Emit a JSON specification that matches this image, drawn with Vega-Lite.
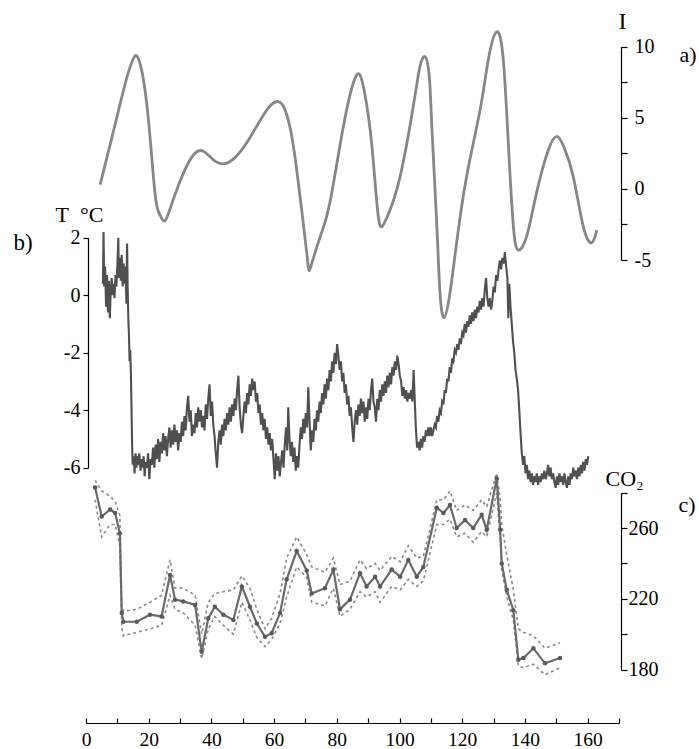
{
  "$schema": "https://vega.github.io/schema/vega-lite/v6.json",
  "width": 621,
  "height": 723,
  "autosize": "none",
  "padding": {"left": 0, "top": 0, "right": 78, "bottom": 26},
  "background": "white",
  "config": {
    "font": "Liberation Serif",
    "view": {"stroke": null},
    "axis": {"labelFont": "Liberation Serif", "titleFont": "Liberation Serif", "labelFontSize": 20, "titleFontSize": 22, "titleFontWeight": "normal", "domainColor": "black", "tickColor": "black", "labelColor": "black", "titleColor": "black", "grid": false, "labelFlush": false, "labelOverlap": false, "domainWidth": 1.2, "tickWidth": 1.2},
    "text": {"font": "Liberation Serif", "fontSize": 22, "color": "black"}
  },
  "datasets": {
    "ins": [
      {"t": 4.5, "I": 0.3}, {"t": 7, "I": 2.5}, {"t": 9.8, "I": 5.0}, {"t": 13, "I": 7.8}, {"t": 15, "I": 9.1}, {"t": 16.2, "I": 9.35}, {"t": 17.8, "I": 8.3}, {"t": 19.9, "I": 4.9}, {"t": 22, "I": -0.3}, {"t": 23.5, "I": -1.8}, {"t": 24.9, "I": -2.27}, {"t": 26.5, "I": -1.6}, {"t": 29.4, "I": 0.2}, {"t": 33.2, "I": 2.05}, {"t": 36.9, "I": 2.69}, {"t": 40.6, "I": 2.05}, {"t": 44.3, "I": 1.77}, {"t": 47.5, "I": 2.2}, {"t": 51.2, "I": 3.22}, {"t": 56.6, "I": 5.2}, {"t": 59.5, "I": 6.0}, {"t": 61.3, "I": 6.14}, {"t": 63.2, "I": 5.7}, {"t": 65.1, "I": 4.3}, {"t": 67.2, "I": 1.35}, {"t": 70.4, "I": -4.5}, {"t": 71.7, "I": -5.47}, {"t": 74.8, "I": -3.3}, {"t": 77.8, "I": -0.96}, {"t": 82.1, "I": 4.4}, {"t": 85.5, "I": 7.6}, {"t": 87.4, "I": 8.0}, {"t": 89.0, "I": 6.6}, {"t": 91.1, "I": 3.22}, {"t": 93.0, "I": -1.5}, {"t": 94.3, "I": -2.67}, {"t": 96.0, "I": -2.0}, {"t": 100.2, "I": 0.88}, {"t": 104.9, "I": 6.5}, {"t": 106.5, "I": 8.6}, {"t": 108.1, "I": 9.3}, {"t": 109.5, "I": 7.9}, {"t": 110.3, "I": 4.4}, {"t": 111.9, "I": -2.6}, {"t": 112.9, "I": -7.3}, {"t": 114.2, "I": -9.05}, {"t": 116.1, "I": -7.3}, {"t": 118.2, "I": -3.8}, {"t": 121.4, "I": 0.88}, {"t": 125.7, "I": 5.56}, {"t": 128.3, "I": 9.07}, {"t": 131.0, "I": 11.05}, {"t": 133.1, "I": 9.07}, {"t": 134.7, "I": 3.2}, {"t": 136.3, "I": -2.6}, {"t": 137.9, "I": -4.3}, {"t": 140.6, "I": -3.3}, {"t": 143.7, "I": -0.28}, {"t": 147.5, "I": 2.76}, {"t": 150.3, "I": 3.69}, {"t": 152.5, "I": 2.9}, {"t": 155.4, "I": 0.88}, {"t": 158.6, "I": -2.63}, {"t": 161.3, "I": -3.79}, {"t": 162.9, "I": -2.9}
    ],
    "temp": [
      {"t": 5.4, "T": 0.4}, {"t": 5.6, "T": 2.2}, {"t": 5.8, "T": 0.3}, {"t": 6.1, "T": 1.0}, {"t": 6.4, "T": -0.4}, {"t": 6.7, "T": 0.7}, {"t": 7.0, "T": -0.6}, {"t": 7.3, "T": 0.5}, {"t": 7.6, "T": -0.8}, {"t": 7.9, "T": 0.2}, {"t": 8.2, "T": 0.6}, {"t": 8.5, "T": 0.0}, {"t": 8.8, "T": 0.4}, {"t": 9.1, "T": -0.1}, {"t": 9.4, "T": 0.7}, {"t": 9.7, "T": 0.3}, {"t": 10.0, "T": 1.0}, {"t": 10.3, "T": 2.0}, {"t": 10.5, "T": 0.6}, {"t": 10.8, "T": 1.3}, {"t": 11.1, "T": 0.5}, {"t": 11.4, "T": 1.4}, {"t": 11.7, "T": 0.3}, {"t": 12.0, "T": 1.1}, {"t": 12.3, "T": 0.4}, {"t": 12.6, "T": 1.0}, {"t": 12.9, "T": -0.3}, {"t": 13.1, "T": 1.8}, {"t": 13.3, "T": 0.2}, {"t": 13.5, "T": -0.8}, {"t": 13.7, "T": -1.4}, {"t": 13.9, "T": -2.3}, {"t": 14.1, "T": -1.9}, {"t": 14.3, "T": -2.6}, {"t": 14.5, "T": -3.8}, {"t": 14.7, "T": -5.2}, {"t": 14.9, "T": -5.9},
      {"t": 15.2, "T": -5.6}, {"t": 15.5, "T": -6.2}, {"t": 15.8, "T": -5.5}, {"t": 16.1, "T": -6.0}, {"t": 16.4, "T": -5.6}, {"t": 16.7, "T": -5.9}, {"t": 17.0, "T": -5.5}, {"t": 17.4, "T": -6.1}, {"t": 17.8, "T": -5.7}, {"t": 18.1, "T": -6.0}, {"t": 18.4, "T": -5.6}, {"t": 18.7, "T": -6.3}, {"t": 19.0, "T": -5.8}, {"t": 19.4, "T": -6.0}, {"t": 19.8, "T": -5.5}, {"t": 20.2, "T": -6.4}, {"t": 20.6, "T": -5.7}, {"t": 21.0, "T": -5.9}, {"t": 21.4, "T": -5.3}, {"t": 21.8, "T": -6.0}, {"t": 22.2, "T": -5.2}, {"t": 22.6, "T": -5.7}, {"t": 23.0, "T": -5.0}, {"t": 23.4, "T": -5.8}, {"t": 23.8, "T": -5.1}, {"t": 24.2, "T": -5.5}, {"t": 24.6, "T": -4.8}, {"t": 25.0, "T": -5.4}, {"t": 25.4, "T": -4.9}, {"t": 25.8, "T": -5.6}, {"t": 26.2, "T": -5.0}, {"t": 26.6, "T": -4.6}, {"t": 27.0, "T": -5.3}, {"t": 27.4, "T": -4.7}, {"t": 27.8, "T": -5.2}, {"t": 28.2, "T": -4.5}, {"t": 28.6, "T": -5.1}, {"t": 29.0, "T": -4.7}, {"t": 29.4, "T": -5.4}, {"t": 29.8, "T": -4.8}, {"t": 30.2, "T": -5.1}, {"t": 30.6, "T": -4.4}, {"t": 31.0, "T": -4.9}, {"t": 31.4, "T": -4.2}, {"t": 31.8, "T": -4.7}, {"t": 32.2, "T": -3.9}, {"t": 32.6, "T": -3.5}, {"t": 33.0, "T": -4.4}, {"t": 33.4, "T": -4.0}, {"t": 33.8, "T": -4.9}, {"t": 34.2, "T": -4.5}, {"t": 34.6, "T": -4.8}, {"t": 35.0, "T": -4.1}, {"t": 35.4, "T": -4.6}, {"t": 35.8, "T": -3.9}, {"t": 36.2, "T": -4.4}, {"t": 36.6, "T": -4.0}, {"t": 37.0, "T": -4.6}, {"t": 37.4, "T": -4.2}, {"t": 37.8, "T": -4.7}, {"t": 38.2, "T": -3.8}, {"t": 38.6, "T": -4.3}, {"t": 39.0, "T": -3.6}, {"t": 39.4, "T": -3.1}, {"t": 39.8, "T": -4.2}, {"t": 40.2, "T": -3.7}, {"t": 40.6, "T": -4.5}, {"t": 41.0, "T": -4.9}, {"t": 41.4, "T": -5.5}, {"t": 41.8, "T": -6.0}, {"t": 42.2, "T": -5.1}, {"t": 42.6, "T": -4.7}, {"t": 43.0, "T": -5.2}, {"t": 43.4, "T": -4.5}, {"t": 43.8, "T": -4.9}, {"t": 44.2, "T": -4.3}, {"t": 44.6, "T": -4.7}, {"t": 45.0, "T": -4.1}, {"t": 45.4, "T": -4.5}, {"t": 45.8, "T": -3.9}, {"t": 46.2, "T": -4.4}, {"t": 46.6, "T": -3.8}, {"t": 47.0, "T": -4.2}, {"t": 47.4, "T": -3.6}, {"t": 47.8, "T": -4.0}, {"t": 48.2, "T": -3.3}, {"t": 48.6, "T": -2.8}, {"t": 49.0, "T": -3.9}, {"t": 49.4, "T": -4.5}, {"t": 49.8, "T": -4.8}, {"t": 50.2, "T": -4.2}, {"t": 50.6, "T": -3.7}, {"t": 51.0, "T": -4.1}, {"t": 51.4, "T": -3.4}, {"t": 51.8, "T": -3.8}, {"t": 52.2, "T": -3.1}, {"t": 52.6, "T": -3.5}, {"t": 53.0, "T": -2.9}, {"t": 53.4, "T": -3.3}, {"t": 53.8, "T": -3.0}, {"t": 54.2, "T": -3.7}, {"t": 54.6, "T": -3.4}, {"t": 55.0, "T": -4.1}, {"t": 55.4, "T": -3.8}, {"t": 55.8, "T": -4.5}, {"t": 56.2, "T": -4.1}, {"t": 56.6, "T": -4.7}, {"t": 57.0, "T": -4.3}, {"t": 57.4, "T": -5.0}, {"t": 57.8, "T": -4.6}, {"t": 58.2, "T": -5.2}, {"t": 58.6, "T": -4.8}, {"t": 59.0, "T": -5.4}, {"t": 59.4, "T": -5.0}, {"t": 59.8, "T": -5.7}, {"t": 60.2, "T": -6.4}, {"t": 60.6, "T": -5.5}, {"t": 61.0, "T": -6.1}, {"t": 61.4, "T": -5.6}, {"t": 61.8, "T": -6.3}, {"t": 62.2, "T": -5.8}, {"t": 62.6, "T": -5.4}, {"t": 63.0, "T": -6.0}, {"t": 63.4, "T": -5.2}, {"t": 63.8, "T": -4.6}, {"t": 64.2, "T": -5.4}, {"t": 64.5, "T": -3.9}, {"t": 64.9, "T": -5.0}, {"t": 65.3, "T": -5.6}, {"t": 65.7, "T": -5.1}, {"t": 66.1, "T": -5.8}, {"t": 66.5, "T": -5.3}, {"t": 66.9, "T": -6.1}, {"t": 67.3, "T": -5.6}, {"t": 67.7, "T": -6.0}, {"t": 68.1, "T": -5.2}, {"t": 68.5, "T": -4.6}, {"t": 68.9, "T": -5.0}, {"t": 69.3, "T": -4.3}, {"t": 69.7, "T": -4.8}, {"t": 70.1, "T": -4.1}, {"t": 70.5, "T": -4.6}, {"t": 70.9, "T": -3.2}, {"t": 71.3, "T": -4.4}, {"t": 71.7, "T": -5.4}, {"t": 72.1, "T": -4.7}, {"t": 72.5, "T": -5.1}, {"t": 72.9, "T": -4.3}, {"t": 73.3, "T": -4.7}, {"t": 73.7, "T": -4.0}, {"t": 74.1, "T": -4.4}, {"t": 74.5, "T": -3.7}, {"t": 74.9, "T": -4.1}, {"t": 75.3, "T": -3.4}, {"t": 75.7, "T": -3.8}, {"t": 76.1, "T": -3.1}, {"t": 76.5, "T": -3.6}, {"t": 76.9, "T": -2.9}, {"t": 77.3, "T": -3.3}, {"t": 77.7, "T": -2.6}, {"t": 78.1, "T": -3.0}, {"t": 78.5, "T": -2.3}, {"t": 78.9, "T": -2.7}, {"t": 79.3, "T": -2.0}, {"t": 79.7, "T": -2.4}, {"t": 80.1, "T": -1.7}, {"t": 80.5, "T": -2.1}, {"t": 80.9, "T": -2.6}, {"t": 81.3, "T": -2.3}, {"t": 81.7, "T": -3.0}, {"t": 82.1, "T": -2.7}, {"t": 82.5, "T": -3.4}, {"t": 82.9, "T": -3.1}, {"t": 83.3, "T": -3.8}, {"t": 83.7, "T": -3.5}, {"t": 84.1, "T": -4.2}, {"t": 84.5, "T": -3.9}, {"t": 84.9, "T": -4.6}, {"t": 85.3, "T": -5.1}, {"t": 85.7, "T": -4.4}, {"t": 86.1, "T": -4.0}, {"t": 86.5, "T": -4.5}, {"t": 86.9, "T": -3.8}, {"t": 87.3, "T": -4.2}, {"t": 87.7, "T": -3.6}, {"t": 88.1, "T": -4.1}, {"t": 88.5, "T": -3.7}, {"t": 88.9, "T": -4.4}, {"t": 89.3, "T": -3.9}, {"t": 89.7, "T": -4.3}, {"t": 90.1, "T": -3.6}, {"t": 90.5, "T": -4.0}, {"t": 90.9, "T": -3.3}, {"t": 91.3, "T": -2.9}, {"t": 91.7, "T": -3.7}, {"t": 92.1, "T": -3.9}, {"t": 92.5, "T": -4.4}, {"t": 92.9, "T": -3.6}, {"t": 93.3, "T": -4.0}, {"t": 93.7, "T": -3.3}, {"t": 94.1, "T": -3.7}, {"t": 94.5, "T": -3.1}, {"t": 94.9, "T": -3.5}, {"t": 95.3, "T": -3.0}, {"t": 95.7, "T": -3.4}, {"t": 96.1, "T": -2.8}, {"t": 96.5, "T": -3.2}, {"t": 96.9, "T": -2.7}, {"t": 97.3, "T": -3.1}, {"t": 97.7, "T": -2.5}, {"t": 98.1, "T": -2.8}, {"t": 98.5, "T": -2.3}, {"t": 98.9, "T": -2.6}, {"t": 99.3, "T": -2.1}, {"t": 99.7, "T": -2.4}, {"t": 100.1, "T": -2.8}, {"t": 100.5, "T": -3.0}, {"t": 100.9, "T": -3.5}, {"t": 101.3, "T": -3.2}, {"t": 101.7, "T": -3.6}, {"t": 102.1, "T": -3.3}, {"t": 102.5, "T": -3.7}, {"t": 102.9, "T": -3.4}, {"t": 103.3, "T": -3.6}, {"t": 103.7, "T": -3.3}, {"t": 104.1, "T": -3.7}, {"t": 104.5, "T": -2.6}, {"t": 104.8, "T": -3.5},
      {"t": 105.2, "T": -4.6}, {"t": 105.6, "T": -5.3}, {"t": 106.0, "T": -5.1}, {"t": 106.4, "T": -5.4}, {"t": 106.8, "T": -5.0}, {"t": 107.2, "T": -5.3}, {"t": 107.6, "T": -4.9}, {"t": 108.0, "T": -5.1}, {"t": 108.4, "T": -4.7}, {"t": 108.8, "T": -4.9}, {"t": 109.2, "T": -4.6}, {"t": 109.6, "T": -4.9}, {"t": 110.0, "T": -4.6}, {"t": 110.4, "T": -4.9}, {"t": 110.8, "T": -4.7}, {"t": 111.2, "T": -4.5}, {"t": 111.6, "T": -4.6}, {"t": 112.0, "T": -4.2}, {"t": 112.4, "T": -4.4}, {"t": 112.8, "T": -4.0}, {"t": 113.2, "T": -4.1}, {"t": 113.6, "T": -3.7}, {"t": 114.0, "T": -3.8}, {"t": 114.4, "T": -3.3}, {"t": 114.8, "T": -3.4}, {"t": 115.2, "T": -2.9}, {"t": 115.6, "T": -3.0}, {"t": 116.0, "T": -2.5}, {"t": 116.4, "T": -2.7}, {"t": 116.8, "T": -2.2}, {"t": 117.2, "T": -2.3}, {"t": 117.6, "T": -1.9}, {"t": 118.0, "T": -2.0}, {"t": 118.4, "T": -1.7}, {"t": 118.8, "T": -1.9}, {"t": 119.2, "T": -1.5}, {"t": 119.6, "T": -1.7}, {"t": 120.0, "T": -1.3}, {"t": 120.4, "T": -1.4}, {"t": 120.8, "T": -1.0}, {"t": 121.2, "T": -1.3}, {"t": 121.6, "T": -0.9}, {"t": 122.0, "T": -1.1}, {"t": 122.4, "T": -0.7}, {"t": 122.8, "T": -1.0}, {"t": 123.2, "T": -0.6}, {"t": 123.6, "T": -0.9}, {"t": 124.0, "T": -0.5}, {"t": 124.4, "T": -0.8}, {"t": 124.8, "T": -0.4}, {"t": 125.2, "T": -0.6}, {"t": 125.6, "T": -0.2}, {"t": 126.0, "T": -0.5}, {"t": 126.4, "T": -0.1}, {"t": 126.8, "T": -0.4}, {"t": 127.2, "T": 0.2}, {"t": 127.6, "T": 0.6}, {"t": 128.0, "T": -0.1},
      {"t": 128.4, "T": -0.4}, {"t": 128.8, "T": -0.1}, {"t": 129.2, "T": -0.5}, {"t": 129.6, "T": -0.2}, {"t": 130.0, "T": 0.3}, {"t": 130.4, "T": 0.1}, {"t": 130.8, "T": 0.7}, {"t": 131.2, "T": 0.5}, {"t": 131.6, "T": 0.9}, {"t": 132.0, "T": 1.2}, {"t": 132.4, "T": 0.9}, {"t": 132.8, "T": 1.3}, {"t": 133.2, "T": 1.1}, {"t": 133.6, "T": 1.5}, {"t": 134.0, "T": 1.0}, {"t": 134.4, "T": 0.6}, {"t": 134.7, "T": -0.8}, {"t": 135.0, "T": 0.4}, {"t": 135.4, "T": -0.4}, {"t": 135.8, "T": -1.0}, {"t": 136.2, "T": -1.6}, {"t": 136.6, "T": -2.0}, {"t": 137.0, "T": -2.6}, {"t": 137.4, "T": -2.9}, {"t": 137.8, "T": -3.3}, {"t": 138.2, "T": -4.0}, {"t": 138.6, "T": -4.8}, {"t": 139.0, "T": -5.5}, {"t": 139.4, "T": -5.9}, {"t": 139.8, "T": -5.6}, {"t": 140.2, "T": -6.2}, {"t": 140.6, "T": -5.9}, {"t": 141.0, "T": -6.4}, {"t": 141.4, "T": -6.1}, {"t": 141.8, "T": -6.5}, {"t": 142.2, "T": -6.2}, {"t": 142.6, "T": -6.6}, {"t": 143.0, "T": -6.3}, {"t": 143.4, "T": -6.5}, {"t": 143.8, "T": -6.2}, {"t": 144.2, "T": -6.6}, {"t": 144.6, "T": -6.3}, {"t": 145.0, "T": -6.5}, {"t": 145.4, "T": -6.2}, {"t": 145.8, "T": -6.4}, {"t": 146.2, "T": -6.1}, {"t": 146.6, "T": -6.4}, {"t": 147.0, "T": -6.2}, {"t": 147.4, "T": -5.9}, {"t": 147.8, "T": -6.3}, {"t": 148.2, "T": -6.0}, {"t": 148.6, "T": -6.4}, {"t": 149.0, "T": -6.2}, {"t": 149.4, "T": -6.5}, {"t": 149.8, "T": -6.7}, {"t": 150.2, "T": -6.3}, {"t": 150.6, "T": -6.6}, {"t": 151.0, "T": -6.2}, {"t": 151.4, "T": -6.5}, {"t": 151.8, "T": -6.3}, {"t": 152.2, "T": -6.6}, {"t": 152.6, "T": -6.2}, {"t": 153.0, "T": -6.5}, {"t": 153.4, "T": -6.7}, {"t": 153.8, "T": -6.3}, {"t": 154.2, "T": -6.6}, {"t": 154.6, "T": -6.2}, {"t": 155.0, "T": -6.4}, {"t": 155.4, "T": -6.0}, {"t": 155.8, "T": -6.3}, {"t": 156.2, "T": -6.1}, {"t": 156.6, "T": -6.4}, {"t": 157.0, "T": -6.0}, {"t": 157.4, "T": -6.3}, {"t": 157.8, "T": -5.9}, {"t": 158.2, "T": -6.2}, {"t": 158.6, "T": -5.8}, {"t": 159.0, "T": -6.1}, {"t": 159.4, "T": -5.7}, {"t": 159.8, "T": -5.9}, {"t": 160.2, "T": -5.6}
    ],
    "co2": [
      {"t": 2.9, "co2": 283, "hi": 287, "lo": 276}, {"t": 5.0, "co2": 266.5, "hi": 281, "lo": 255}, {"t": 7.7, "co2": 270.5, "hi": 278, "lo": 262}, {"t": 9.3, "co2": 268.5, "hi": 275, "lo": 262}, {"t": 10.8, "co2": 257, "hi": 267, "lo": 250}, {"t": 11.4, "co2": 212, "hi": 217, "lo": 204}, {"t": 11.9, "co2": 207, "hi": 213, "lo": 199}, {"t": 16.2, "co2": 207, "hi": 214, "lo": 201}, {"t": 20.4, "co2": 211, "hi": 218, "lo": 203}, {"t": 24.1, "co2": 210, "hi": 222, "lo": 205}, {"t": 26.8, "co2": 233.5, "hi": 242, "lo": 222}, {"t": 28.4, "co2": 219.5, "hi": 226, "lo": 214}, {"t": 31, "co2": 218.5, "hi": 226, "lo": 212}, {"t": 34.8, "co2": 216.5, "hi": 222, "lo": 205}, {"t": 36.9, "co2": 190, "hi": 200, "lo": 186}, {"t": 39, "co2": 209, "hi": 218, "lo": 203}, {"t": 41.1, "co2": 215.5, "hi": 223, "lo": 210}, {"t": 43.8, "co2": 211, "hi": 224, "lo": 205}, {"t": 47, "co2": 208, "hi": 225, "lo": 200}, {"t": 49.7, "co2": 227, "hi": 233, "lo": 218}, {"t": 52.3, "co2": 215.5, "hi": 226, "lo": 208}, {"t": 54.5, "co2": 206, "hi": 214, "lo": 198}, {"t": 57.1, "co2": 198.5, "hi": 203, "lo": 193}, {"t": 59.2, "co2": 200.5, "hi": 209, "lo": 197}, {"t": 61.9, "co2": 212, "hi": 223, "lo": 206}, {"t": 64, "co2": 231, "hi": 243, "lo": 221}, {"t": 67.2, "co2": 247, "hi": 255, "lo": 238}, {"t": 70.4, "co2": 236, "hi": 245, "lo": 232}, {"t": 72, "co2": 223, "hi": 238, "lo": 218}, {"t": 76.2, "co2": 226, "hi": 235, "lo": 216}, {"t": 78.9, "co2": 236.5, "hi": 243, "lo": 226}, {"t": 81, "co2": 214, "hi": 228, "lo": 210}, {"t": 84.2, "co2": 219.5, "hi": 230, "lo": 214}, {"t": 87.4, "co2": 234.5, "hi": 242, "lo": 224}, {"t": 89.5, "co2": 227, "hi": 237, "lo": 221}, {"t": 92.2, "co2": 232.5, "hi": 240, "lo": 224}, {"t": 93.8, "co2": 227, "hi": 236, "lo": 218}, {"t": 97.5, "co2": 236.5, "hi": 244, "lo": 227}, {"t": 100.2, "co2": 232.5, "hi": 241, "lo": 225}, {"t": 102.8, "co2": 242, "hi": 250, "lo": 231}, {"t": 105.5, "co2": 232.5, "hi": 243, "lo": 227}, {"t": 107.6, "co2": 238, "hi": 244, "lo": 230}, {"t": 111.9, "co2": 271.5, "hi": 276, "lo": 262}, {"t": 114, "co2": 268.5, "hi": 276, "lo": 262}, {"t": 116.1, "co2": 273, "hi": 281, "lo": 265}, {"t": 118.2, "co2": 260, "hi": 270, "lo": 255}, {"t": 120.9, "co2": 264.5, "hi": 273, "lo": 257}, {"t": 123.5, "co2": 260, "hi": 270, "lo": 252}, {"t": 126.2, "co2": 267.5, "hi": 276, "lo": 258}, {"t": 127.8, "co2": 259, "hi": 272, "lo": 255}, {"t": 131, "co2": 288, "hi": 291, "lo": 280}, {"t": 132.1, "co2": 259, "hi": 276, "lo": 255}, {"t": 132.6, "co2": 240, "hi": 262, "lo": 236}, {"t": 134.2, "co2": 225, "hi": 245, "lo": 221}, {"t": 136.3, "co2": 213.5, "hi": 225, "lo": 208}, {"t": 137.9, "co2": 185.5, "hi": 203, "lo": 182}, {"t": 139.5, "co2": 186.5, "hi": 201, "lo": 181}, {"t": 142.7, "co2": 192, "hi": 199, "lo": 183}, {"t": 146.4, "co2": 183.5, "hi": 192, "lo": 177}, {"t": 151.2, "co2": 186.5, "hi": 195, "lo": 181}
    ]
  },
  "encoding": {
    "x": {
      "field": "t", "type": "quantitative",
      "scale": {"domain": [0, 170], "range": [86, 619], "nice": false, "zero": false},
      "axis": {"values": [0, 10, 20, 30, 40, 50, 60, 70, 80, 90, 100, 110, 120, 130, 140, 150, 160, 170], "labelExpr": "datum.value % 20 == 0 ? datum.label : ''", "title": null, "tickSize": -5, "labelPadding": 12, "labelFontSize": 19.5}
    }
  },
  "layer": [
    {
      "layer": [
        {
          "data": {"name": "ins"},
          "mark": {"type": "line", "interpolate": "natural", "color": "#878787", "strokeWidth": 2.8},
          "encoding": {
            "y": {"field": "I", "type": "quantitative",
              "scale": {"domain": [-5, 10], "range": [260, 46.7], "nice": false, "zero": false},
              "axis": {"orient": "right", "values": [-5, -2.5, 0, 2.5, 5, 7.5, 10], "labelExpr": "datum.value % 5 == 0 ? '' + datum.value : ''", "tickSize": 6, "labelPadding": 7, "title": "I", "titleAngle": 0, "titleX": 1, "titleY": 21, "titleAlign": "center", "titleBaseline": "middle", "titleFontSize": 24}
            }
          }
        },
        {
          "data": {"values": [{"t": 192, "I": 9.4, "label": "a)"}]},
          "mark": {"type": "text", "align": "center", "baseline": "middle", "font": "Liberation Serif", "fontSize": 22},
          "encoding": {"y": {"field": "I", "type": "quantitative"}, "text": {"field": "label"}}
        }
      ]
    },
    {
      "layer": [
        {
          "data": {"name": "temp"},
          "mark": {"type": "line", "color": "#505050", "strokeWidth": 2.1},
          "encoding": {
            "y": {"field": "T", "type": "quantitative",
              "scale": {"domain": [-6, 2], "range": [467.7, 237.7], "nice": false, "zero": false},
              "axis": {"orient": "left", "offset": -88, "values": [-6, -4, -2, 0, 2], "labelExpr": "'' + datum.value", "tickSize": 5, "labelPadding": 3, "title": "T\u00a0\u00a0°C", "titleAngle": 0, "titleX": -33, "titleY": 221, "titleAlign": "left", "titleBaseline": "alphabetic", "titleFontSize": 22}
            }
          }
        },
        {
          "data": {"values": [{"t": -20.1, "T": 1.82, "label": "b)"}]},
          "mark": {"type": "text", "align": "center", "baseline": "middle", "font": "Liberation Serif", "fontSize": 23},
          "encoding": {"y": {"field": "T", "type": "quantitative"}, "text": {"field": "label"}}
        }
      ]
    },
    {
      "layer": [
        {
          "data": {"name": "co2"},
          "mark": {"type": "line", "color": "#8a8a8a", "strokeWidth": 1.6, "strokeDash": [3, 3]},
          "encoding": {
            "y": {"field": "hi", "type": "quantitative",
              "scale": {"domain": [180, 280], "range": [669.5, 492.7], "nice": false, "zero": false},
              "axis": {"orient": "right", "values": [180, 200, 220, 240, 260, 280], "labelExpr": "datum.value % 40 == 20 ? '' + datum.value : ''", "tickSize": 6, "labelPadding": 1, "title": "CO₂", "titleAngle": 0, "titleX": -16, "titleY": 485, "titleAlign": "left", "titleBaseline": "alphabetic", "titleFontSize": 22}
            }
          }
        },
        {
          "data": {"name": "co2"},
          "mark": {"type": "line", "color": "#8a8a8a", "strokeWidth": 1.6, "strokeDash": [3, 3]},
          "encoding": {"y": {"field": "lo", "type": "quantitative"}}
        },
        {
          "data": {"name": "co2"},
          "mark": {"type": "line", "color": "#6a6a6a", "strokeWidth": 2.2, "point": {"filled": true, "size": 20, "color": "#5a5a5a"}},
          "encoding": {"y": {"field": "co2", "type": "quantitative"}}
        },
        {
          "data": {"values": [{"t": 191.7, "co2": 273.2, "label": "c)"}]},
          "mark": {"type": "text", "align": "center", "baseline": "middle", "font": "Liberation Serif", "fontSize": 22},
          "encoding": {"y": {"field": "co2", "type": "quantitative"}, "text": {"field": "label"}}
        }
      ]
    }
  ],
  "resolve": {"scale": {"y": "independent"}, "axis": {"y": "independent"}}
}
